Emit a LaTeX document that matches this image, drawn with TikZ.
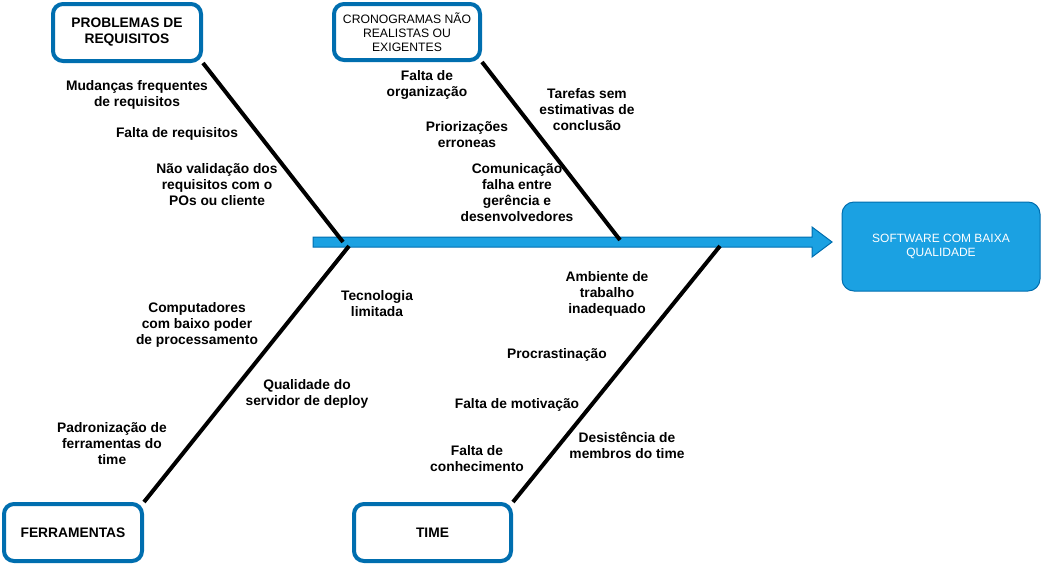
\documentclass[tikz,border=0pt]{standalone}
\usepackage{fontspec}
\setmainfont{Liberation Sans}
\begin{document}
\begin{tikzpicture}[x=1pt,y=-1pt,
  catbox/.style={draw=boxblue,line width=4pt,rounded corners=10pt,fill=white,align=center,inner sep=0pt},
  bonelabel/.style={align=center,font=\bfseries\fontsize{13.8}{16}\selectfont,inner sep=0pt,yshift=-2pt},
  bone/.style={line width=4pt,black}]
\definecolor{boxblue}{RGB}{0,110,175}
\definecolor{fillblue}{RGB}{27,161,226}
\useasboundingbox (0,0) rectangle (1044,565);
% spine arrow
\draw[draw=boxblue,fill=fillblue,line width=1pt] (313,237) -- (812,237) -- (812,227) -- (832,242) -- (812,257) -- (812,247) -- (313,247) -- cycle;
% category boxes
\node[catbox,minimum width=148,minimum height=57,font=\bfseries\fontsize{13.8}{16}\selectfont] (req) at (127,32.5) {PROBLEMAS DE\\REQUISITOS};
\node[catbox,minimum width=146,minimum height=56,font=\fontsize{12.2}{14}\selectfont] (cron) at (407,32) {CRONOGRAMAS NÃO\\REALISTAS OU\\EXIGENTES};
\node[catbox,minimum width=138,minimum height=57,font=\bfseries\fontsize{13.8}{16}\selectfont] (ferr) at (73,532.5) {FERRAMENTAS};
\node[catbox,minimum width=157,minimum height=57,font=\bfseries\fontsize{13.8}{16}\selectfont] (time) at (432.5,532.5) {TIME};
\node[draw=boxblue,fill=fillblue,line width=1pt,rounded corners=12pt,minimum width=198,minimum height=89,align=center,text=white,font=\fontsize{12}{14}\selectfont] (soft) at (941,246.5) {SOFTWARE COM BAIXA\\QUALIDADE};
% spine points
\coordinate (s1) at (343,242);
\coordinate (s2) at (620,240);
\coordinate (s3) at (349,246);
\coordinate (s4) at (720,246);
% bones
\draw[bone] (req.south east) -- (s1);
\draw[bone] (cron.south east) -- (s2);
\draw[bone] (s3) -- (ferr.north east);
\draw[bone] (s4) -- (time.north east);
% labels
\node[bonelabel] (l1) at (137,93) {Mudanças frequentes\\de requisitos};
\node[bonelabel] (l2) at (177,132) {Falta de requisitos};
\node[bonelabel] (l3) at (217,183) {Não validação dos\\requisitos com o\\POs ou cliente};
\node[bonelabel] (l4) at (427,83) {Falta de\\organização};
\node[bonelabel] (l5) at (587,108) {Tarefas sem\\estimativas de\\conclusão};
\node[bonelabel] (l6) at (467,133) {Priorizações\\erroneas};
\node[bonelabel] (l7) at (517,191) {Comunicação\\falha entre\\gerência e\\desenvolvedores};
\node[bonelabel] (l8) at (377,302) {Tecnologia\\limitada};
\node[bonelabel] (l9) at (197,323) {Computadores\\com baixo poder\\de processamento};
\node[bonelabel] (l10) at (307,392) {Qualidade do\\servidor de deploy};
\node[bonelabel] (l11) at (112,442) {Padronização de\\ferramentas do\\time};
\node[bonelabel] (l12) at (607,292) {Ambiente de\\trabalho\\inadequado};
\node[bonelabel] (l13) at (557,353) {Procrastinação};
\node[bonelabel] (l14) at (517,403) {Falta de motivação};
\node[bonelabel] (l15) at (477,457) {Falta de\\conhecimento};
\node[bonelabel] (l16) at (627,443) {Desistência de\\membros do time};
\end{tikzpicture}
\end{document}
